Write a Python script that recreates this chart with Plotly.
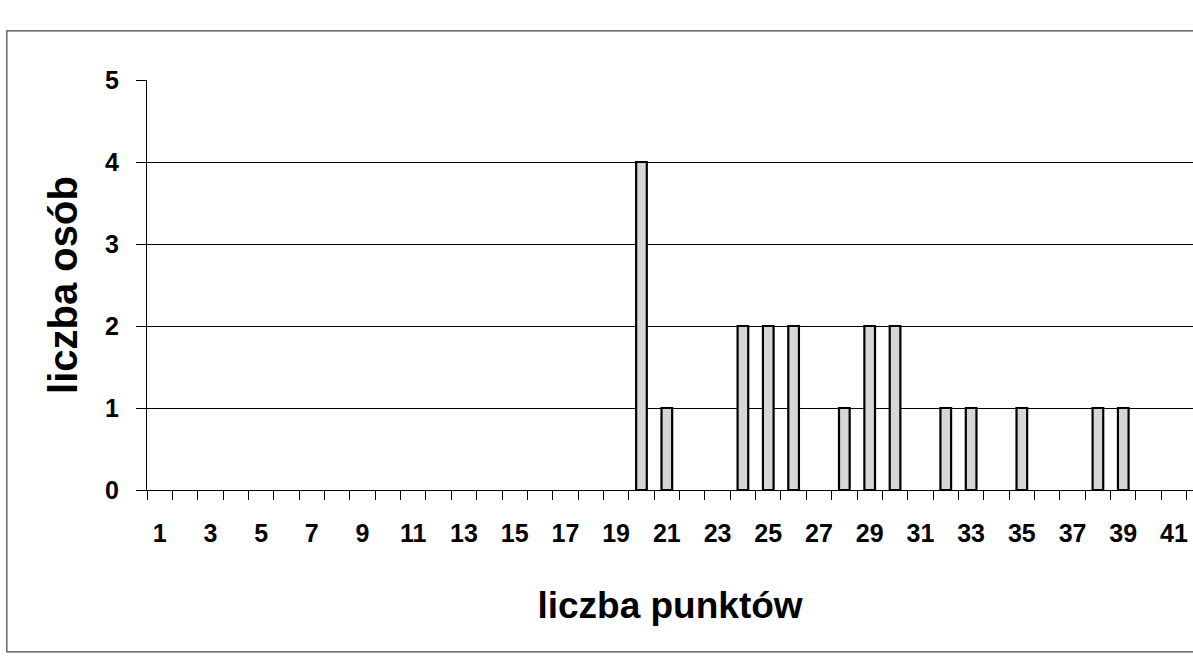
import plotly.graph_objects as go

categories = list(range(1, 42))
counts = {20: 4, 21: 1, 24: 2, 25: 2, 26: 2, 28: 1, 29: 2, 30: 2,
          32: 1, 33: 1, 35: 1, 38: 1, 39: 1}
values = [counts.get(c) for c in categories]
label_vals = list(range(1, 42, 2))
y_ticks = [0, 1, 2, 3, 4, 5]

FONT = "Liberation Sans, Arial, sans-serif"

fig = go.Figure()
fig.add_trace(go.Bar(
    x=categories, y=values, width=0.42,
    marker=dict(color="#d6d6d6", line=dict(color="black", width=2.2)),
))

fig.update_layout(
    width=1193, height=657,
    margin=dict(l=147, r=0, t=80, b=167, autoexpand=False),
    paper_bgcolor="white", plot_bgcolor="white",
    showlegend=False,
    font=dict(family=FONT, color="black"),
    xaxis=dict(
        range=[0.5, 41.75], automargin=False,
        tickmode="array", tickvals=label_vals, ticktext=[str(v) for v in label_vals],
        ticks="", showgrid=False,
        tickfont=dict(family=FONT, size=25, color="black", weight="bold"),
        ticklabelstandoff=21, ticklabeloverflow="allow",
        showline=True, linecolor="black", linewidth=1.2,
        minor=dict(ticks="outside", tick0=0.5, dtick=1, ticklen=9,
                   tickcolor="black", tickwidth=1, showgrid=False),
        title=dict(text="liczba punktów", standoff=46,
                   font=dict(family=FONT, size=37, color="black", weight="bold")),
        zeroline=False,
    ),
    yaxis=dict(
        range=[0, 5], automargin=False,
        tickmode="array", tickvals=y_ticks,
        ticks="outside", ticklen=10, tickcolor="black", tickwidth=1,
        tickfont=dict(family=FONT, size=25, color="black", weight="bold"),
        ticklabelstandoff=12,
        showgrid=False,
        showline=True, linecolor="black", linewidth=1.2,
        minor=dict(tickvals=[1, 2, 3, 4], showgrid=True, gridcolor="black",
                   gridwidth=1, ticks=""),
        title=dict(text="liczba osób", standoff=14,
                   font=dict(family=FONT, size=40, color="black", weight="bold")),
        zeroline=False,
    ),
)

# outer chart border
fig.add_shape(type="rect", xref="paper", yref="paper",
              x0=-0.134, x1=1.05, y0=-0.395, y1=1.12,
              line=dict(color="#444", width=1.2), layer="below")

fig.write_html("out.html", config={"displayModeBar": False},
               post_script="document.body.style.margin='0';")
